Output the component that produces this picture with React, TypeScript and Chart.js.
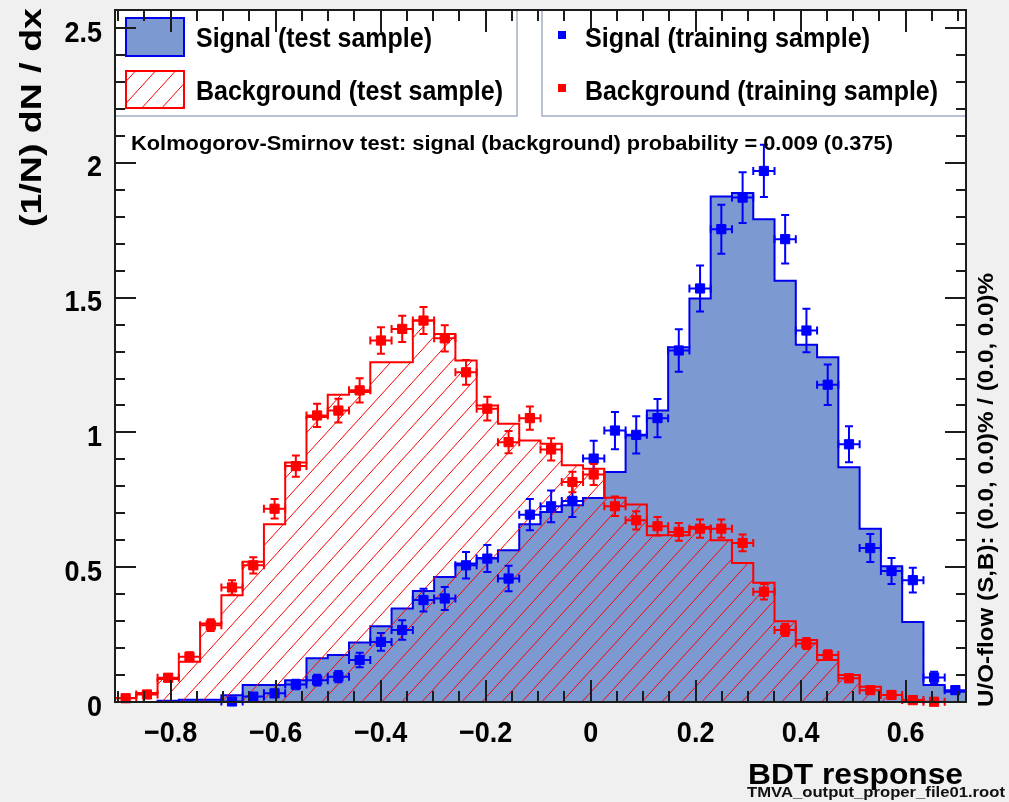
import React, { useEffect, useRef } from "react";
import { Chart, registerables } from "chart.js";

Chart.register(...registerables);

// Axis range and binning of the BDT response histograms
const X_MIN = -0.906;
const X_MAX = 0.715;
const N_BINS = 40;
const Y_MIN = 0;
const Y_MAX = 2.567;

// Normalised test-sample histograms, one value per bin
const signalTest = [
  0, 0, 0.005, 0.008, 0.008, 0.025, 0.063, 0.063, 0.081, 0.162,
  0.174, 0.221, 0.281, 0.347, 0.412, 0.464, 0.514, 0.534, 0.563, 0.659,
  0.705, 0.73, 0.757, 0.853, 0.989, 1.081, 1.316, 1.497, 1.875, 1.888,
  1.791, 1.563, 1.325, 1.279, 0.871, 0.643, 0.504, 0.297, 0.063, 0.038,
];
const backgroundTest = [
  0.015, 0.033, 0.085, 0.149, 0.291, 0.396, 0.52, 0.659, 0.888, 1.057,
  1.14, 1.15, 1.26, 1.26, 1.415, 1.365, 1.267, 1.1, 1.032, 0.97,
  0.958, 0.878, 0.865, 0.758, 0.733, 0.619, 0.619, 0.649, 0.6, 0.516,
  0.442, 0.3, 0.23, 0.156, 0.1, 0.057, 0.026, 0.004, 0, 0,
];

// Training samples drawn as points with errors; null marks an empty bin
const signalTrain = [
  null, null, null, null, null, 0.002, 0.02, 0.032, 0.065, 0.081,
  0.094, 0.156, 0.223, 0.267, 0.378, 0.384, 0.507, 0.532, 0.458, 0.695,
  0.726, 0.746, 0.903, 1.007, 0.991, 1.053, 1.304, 1.534, 1.754, 1.871,
  1.97, 1.717, 1.378, 1.177, 0.956, 0.571, 0.486, 0.452, 0.091, 0.044,
];
const signalTrainErr = [
  0, 0, 0, 0, 0, 0.01, 0.01, 0.012, 0.018, 0.02,
  0.021, 0.027, 0.033, 0.036, 0.042, 0.043, 0.049, 0.05, 0.047, 0.058,
  0.059, 0.06, 0.066, 0.069, 0.069, 0.071, 0.079, 0.085, 0.091, 0.094,
  0.097, 0.09, 0.081, 0.075, 0.067, 0.052, 0.048, 0.046, 0.021, 0.014,
];
const backgroundTrain = [
  0.014, 0.028, 0.09, 0.168, 0.285, 0.425, 0.507, 0.717, 0.875, 1.063,
  1.081, 1.156, 1.341, 1.384, 1.415, 1.349, 1.223, 1.088, 0.964, 1.053,
  0.937, 0.816, 0.844, 0.726, 0.674, 0.652, 0.631, 0.643, 0.643, 0.59,
  0.409, 0.267, 0.217, 0.174, 0.088, 0.044, 0.026, 0.007, 0.001, null,
];
const backgroundTrainErr = [
  0.005, 0.007, 0.013, 0.017, 0.022, 0.027, 0.03, 0.036, 0.039, 0.043,
  0.044, 0.045, 0.049, 0.049, 0.05, 0.049, 0.046, 0.044, 0.041, 0.043,
  0.041, 0.038, 0.039, 0.036, 0.034, 0.034, 0.033, 0.034, 0.034, 0.031,
  0.029, 0.022, 0.02, 0.018, 0.012, 0.009, 0.007, 0.004, 0.001, 0,
];

// Axis tick labels
const xTickValues = [-0.8, -0.6, -0.4, -0.2, 0, 0.2, 0.4, 0.6];
const xTickLabels = ["\u22120.8", "\u22120.6", "\u22120.4", "\u22120.2", "0", "0.2", "0.4", "0.6"];
const yTickValues = [0, 0.5, 1, 1.5, 2, 2.5];
const yTickLabels = ["0", "0.5", "1", "1.5", "2", "2.5"];

const legendLabels = [
  "Signal (test sample)",
  "Background (test sample)",
  "Signal (training sample)",
  "Background (training sample)",
];
const ksText = "Kolmogorov-Smirnov test: signal (background) probability = 0.009 (0.375)";
const yTitle = "(1/N) dN / dx";
const xTitle = "BDT response";
const flowText = "U/O-flow (S,B): (0.0, 0.0)% / (0.0, 0.0)%";
const fileText = "TMVA_output_proper_file01.root";

const SIG_FILL = "#7d99d1";
const SIG_LINE = "#0000ee";
const SIG_MARK = "#0000ff";
const BKG_LINE = "#ff0000";
const PAGE_BG = "#f0f0f0";
const FRAME = "#1c1c1c";
const LEGEND_BORDER = "#a4aec3";
const FONT = '"Liberation Sans", Arial, Helvetica, sans-serif';

const BW = (X_MAX - X_MIN) / N_BINS;

type Pt = { x: number; y: number; err?: number };

// Outline of a histogram: flat top across each bin, vertical steps between bins
function histPath(values: number[]): Pt[] {
  const pts: Pt[] = [];
  values.forEach((v, i) => {
    pts.push({ x: X_MIN + i * BW, y: v });
    pts.push({ x: X_MIN + (i + 1) * BW, y: v });
  });
  return pts;
}

function pointSeries(values: (number | null)[], errs: number[]): Pt[] {
  const pts: Pt[] = [];
  values.forEach((v, i) => {
    if (v !== null) pts.push({ x: X_MIN + (i + 0.5) * BW, y: v, err: errs[i] });
  });
  return pts;
}

function makeHatch(): CanvasPattern | string {
  const w = 20;
  const h = 22;
  const c = document.createElement("canvas");
  c.width = w;
  c.height = h;
  const g = c.getContext("2d");
  if (!g) return "rgba(255,0,0,0.2)";
  g.strokeStyle = BKG_LINE;
  g.lineWidth = 1;
  for (const k of [-1, 0, 1]) {
    g.beginPath();
    g.moveTo(k * w, h);
    g.lineTo(k * w + w, 0);
    g.stroke();
  }
  return g.createPattern(c, "repeat") || "rgba(255,0,0,0.2)";
}

// Text squeezed or stretched horizontally to a given width
function fitText(
  ctx: CanvasRenderingContext2D,
  text: string,
  x: number,
  y: number,
  font: string,
  width: number,
  align: "left" | "right" | "center" = "left",
  color = "#000",
  rotate = 0
) {
  ctx.save();
  ctx.font = font;
  ctx.fillStyle = color;
  ctx.textBaseline = "alphabetic";
  ctx.textAlign = "left";
  const w = ctx.measureText(text).width || 1;
  ctx.translate(x, y);
  if (rotate) ctx.rotate(rotate);
  let x0 = 0;
  if (align === "right") x0 = -width;
  else if (align === "center") x0 = -width / 2;
  ctx.translate(x0, 0);
  ctx.scale(width / w, 1);
  ctx.fillText(text, 0, 0);
  ctx.restore();
}

function scaledText(
  ctx: CanvasRenderingContext2D,
  text: string,
  x: number,
  y: number,
  font: string,
  sx: number,
  align: "left" | "right" | "center"
) {
  ctx.save();
  ctx.font = font;
  ctx.fillStyle = "#000";
  ctx.textBaseline = "alphabetic";
  ctx.textAlign = align;
  ctx.translate(x, y);
  ctx.scale(sx, 1);
  ctx.fillText(text, 0, 0);
  ctx.restore();
}

export default function App() {
  const canvasRef = useRef<HTMLCanvasElement | null>(null);

  useEffect(() => {
    const canvas = canvasRef.current;
    if (!canvas) return;
    const hatch = makeHatch();

    const backdrop = {
      id: "backdrop",
      beforeDraw(chart: any) {
        const { ctx, chartArea: a } = chart;
        ctx.save();
        ctx.fillStyle = PAGE_BG;
        ctx.fillRect(0, 0, chart.width, chart.height);
        ctx.fillStyle = "#ffffff";
        ctx.fillRect(a.left, a.top, a.right - a.left, a.bottom - a.top);
        ctx.restore();
      },
    };

    const errorBars = {
      id: "errorBars",
      beforeDatasetDraw(chart: any, args: any) {
        const ds = chart.data.datasets[args.index];
        if (!ds.errorColor) return;
        const { ctx, scales } = chart;
        const xs = scales.x;
        const ys = scales.y;
        const cap = 4;
        ctx.save();
        ctx.strokeStyle = ds.errorColor;
        ctx.lineWidth = 2;
        for (const p of ds.data as Pt[]) {
          const px = xs.getPixelForValue(p.x);
          const py = ys.getPixelForValue(p.y);
          const xl = xs.getPixelForValue(p.x - BW / 2);
          const xr = xs.getPixelForValue(p.x + BW / 2);
          const e = p.err || 0;
          const yt = ys.getPixelForValue(p.y + e);
          const yb = ys.getPixelForValue(p.y - e);
          ctx.beginPath();
          ctx.moveTo(xl, py);
          ctx.lineTo(xr, py);
          ctx.moveTo(xl, py - cap);
          ctx.lineTo(xl, py + cap);
          ctx.moveTo(xr, py - cap);
          ctx.lineTo(xr, py + cap);
          if (e > 0) {
            ctx.moveTo(px, yt);
            ctx.lineTo(px, yb);
            ctx.moveTo(px - cap, yt);
            ctx.lineTo(px + cap, yt);
            ctx.moveTo(px - cap, yb);
            ctx.lineTo(px + cap, yb);
          }
          ctx.stroke();
        }
        ctx.restore();
      },
    };

    const legendAndNotes = {
      id: "legendAndNotes",
      afterDatasetsDraw(chart: any) {
        const { ctx, chartArea: a } = chart;
        ctx.save();
        // left legend (test samples)
        ctx.fillStyle = "#ffffff";
        ctx.fillRect(a.left, a.top, 517 - a.left, 116 - a.top);
        ctx.strokeStyle = LEGEND_BORDER;
        ctx.lineWidth = 1.5;
        ctx.strokeRect(a.left, a.top, 517 - a.left, 116 - a.top);
        // right legend (training samples)
        ctx.fillRect(542, a.top, a.right - 542, 116 - a.top);
        ctx.strokeRect(542, a.top, a.right - 542, 116 - a.top);

        ctx.lineWidth = 2;
        ctx.fillStyle = SIG_FILL;
        ctx.fillRect(126, 18, 58, 38);
        ctx.strokeStyle = SIG_LINE;
        ctx.strokeRect(126, 18, 58, 38);

        ctx.fillStyle = "#ffffff";
        ctx.fillRect(126, 71, 58, 37);
        ctx.fillStyle = hatch as any;
        ctx.fillRect(126, 71, 58, 37);
        ctx.strokeStyle = BKG_LINE;
        ctx.strokeRect(126, 71, 58, 37);

        ctx.fillStyle = SIG_MARK;
        ctx.fillRect(558, 31, 8, 8);
        ctx.fillStyle = BKG_LINE;
        ctx.fillRect(558, 84, 8, 8);
        ctx.restore();

        const lf = `bold 28px ${FONT}`;
        fitText(ctx, legendLabels[0], 196, 47, lf, 236);
        fitText(ctx, legendLabels[1], 196, 100, lf, 307);
        fitText(ctx, legendLabels[2], 585, 47, lf, 285);
        fitText(ctx, legendLabels[3], 585, 100, lf, 353);

        fitText(ctx, ksText, 131, 150, `bold 20px ${FONT}`, 762);
      },
    };

    const frameAndAxes = {
      id: "frameAndAxes",
      afterDraw(chart: any) {
        const { ctx, chartArea: a, scales } = chart;
        const xs = scales.x;
        const ys = scales.y;
        ctx.save();
        ctx.strokeStyle = FRAME;
        ctx.lineWidth = 2;
        const seg = (x1: number, y1: number, x2: number, y2: number) => {
          ctx.beginPath();
          ctx.moveTo(x1, y1);
          ctx.lineTo(x2, y2);
          ctx.stroke();
        };
        // x ticks every 0.05, major every 0.2
        for (let k = Math.ceil(X_MIN / 0.05 - 1e-9); k * 0.05 <= X_MAX + 1e-9; k++) {
          const px = Math.round(xs.getPixelForValue(k * 0.05));
          const len = k % 4 === 0 ? 22 : 11;
          seg(px, a.bottom, px, a.bottom - len);
          seg(px, a.top, px, a.top + len);
        }
        // y ticks every 0.1, major every 0.5
        for (let k = 0; k * 0.1 <= Y_MAX + 1e-9; k++) {
          const py = Math.round(ys.getPixelForValue(k * 0.1));
          const len = k % 5 === 0 ? 21 : 10;
          seg(a.left, py, a.left + len, py);
          seg(a.right, py, a.right - len, py);
        }
        ctx.strokeRect(a.left, a.top, a.right - a.left, a.bottom - a.top);
        ctx.restore();

        const tf = `bold 30px ${FONT}`;
        xTickValues.forEach((v, i) => {
          scaledText(ctx, xTickLabels[i], xs.getPixelForValue(v), 742, tf, 0.9, "center");
        });
        yTickValues.forEach((v, i) => {
          scaledText(ctx, yTickLabels[i], 102, ys.getPixelForValue(v) + 13.5, tf, 0.9, "right");
        });

        fitText(ctx, yTitle, 41, 227, `bold 29px ${FONT}`, 219, "left", "#000", -Math.PI / 2);
        fitText(ctx, xTitle, 963, 784, `bold 30px ${FONT}`, 215, "right");
        fitText(ctx, flowText, 993, 707, `bold 22px ${FONT}`, 434, "left", "#000", -Math.PI / 2);
        fitText(ctx, fileText, 747, 797, `bold 15px ${FONT}`, 258, "left", "#111");
      },
    };

    const chart = new Chart(canvas, {
      type: "line",
      data: {
        datasets: [
          {
            type: "line",
            label: legendLabels[0],
            data: histPath(signalTest),
            borderColor: SIG_LINE,
            backgroundColor: SIG_FILL,
            borderWidth: 2,
            pointRadius: 0,
            tension: 0,
            fill: "origin",
            order: 4,
          },
          {
            type: "line",
            label: legendLabels[1],
            data: histPath(backgroundTest),
            borderColor: BKG_LINE,
            backgroundColor: hatch as any,
            borderWidth: 2,
            pointRadius: 0,
            tension: 0,
            fill: "origin",
            order: 3,
          },
          {
            type: "scatter",
            label: legendLabels[2],
            data: pointSeries(signalTrain, signalTrainErr),
            errorColor: SIG_MARK,
            pointStyle: "rect",
            pointRadius: 6.5,
            borderWidth: 1,
            borderColor: SIG_MARK,
            backgroundColor: SIG_MARK,
            clip: false,
            order: 2,
          } as any,
          {
            type: "scatter",
            label: legendLabels[3],
            data: pointSeries(backgroundTrain, backgroundTrainErr),
            errorColor: BKG_LINE,
            pointStyle: "rect",
            pointRadius: 6.5,
            borderWidth: 1,
            borderColor: BKG_LINE,
            backgroundColor: BKG_LINE,
            clip: false,
            order: 1,
          } as any,
        ],
      },
      options: {
        animation: false,
        responsive: false,
        devicePixelRatio: 1,
        events: [],
        layout: { padding: { left: 115, top: 10, right: 43, bottom: 100 } },
        scales: {
          x: { type: "linear", min: X_MIN, max: X_MAX, display: false },
          y: { type: "linear", min: Y_MIN, max: Y_MAX, display: false },
        },
        plugins: {
          legend: { display: false },
          tooltip: { enabled: false },
        },
      },
      plugins: [backdrop, errorBars, legendAndNotes, frameAndAxes],
    });

    return () => chart.destroy();
  }, []);

  return (
    <div
      style={{
        position: "fixed",
        left: 0,
        top: 0,
        width: 1009,
        height: 802,
        background: PAGE_BG,
      }}
    >
      <canvas ref={canvasRef} width={1009} height={802} style={{ display: "block" }} />
    </div>
  );
}
